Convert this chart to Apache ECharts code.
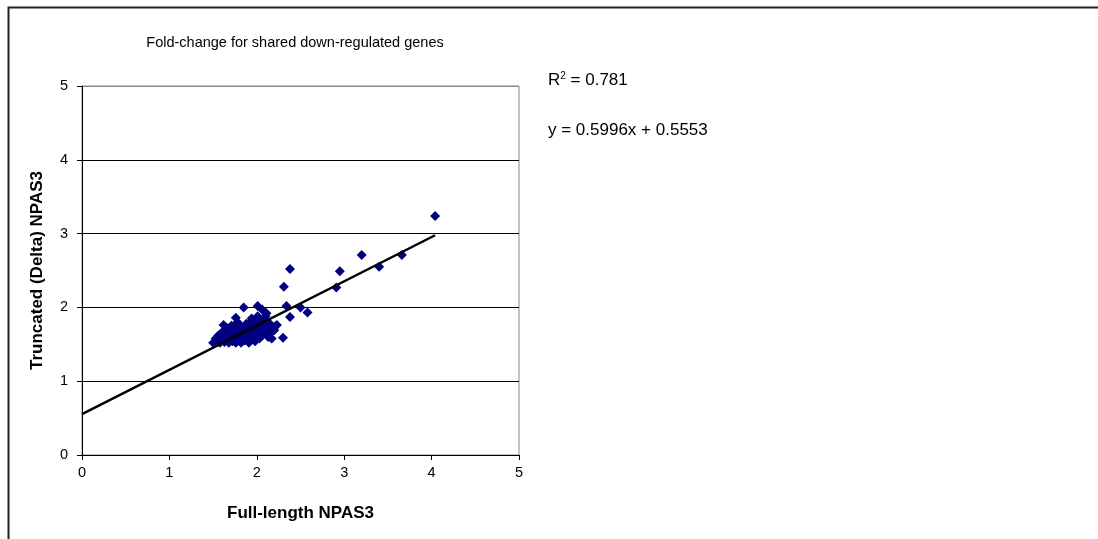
<!DOCTYPE html>
<html>
<head>
<meta charset="utf-8">
<script src="https://cdn.jsdelivr.net/npm/echarts@6/dist/echarts.min.js"></script>
<style>
  html, body { margin: 0; padding: 0; background: #fff; }
  #chart { width: 1098px; height: 539px; }
</style>
</head>
<body>
<div id="chart"></div>
<script>
// fold-change values (x = full-length, y = truncated)
const fullLength = [
  4.04, 3.66, 3.40, 3.20, 2.95, 2.91, 2.38, 2.31, 2.34, 2.50, 2.58, 2.38, 2.30,
  2.01, 1.85, 2.06, 2.11, 1.94, 1.76, 1.62, 2.21, 2.17,
  1.50, 1.53, 1.55, 1.56, 1.58, 1.60, 1.60, 1.62,
  1.63, 1.64, 1.65, 1.66, 1.67, 1.68, 1.69, 1.70,
  1.71, 1.72, 1.73, 1.74, 1.75, 1.76, 1.77, 1.78, 1.79, 1.80,
  1.81, 1.82, 1.83, 1.84, 1.85, 1.86, 1.87, 1.88, 1.89, 1.90,
  1.91, 1.92, 1.93, 1.94, 1.95, 1.96, 1.97, 1.98, 1.99, 2.00,
  2.01, 2.02, 2.03, 2.04, 2.05, 2.06, 2.07, 2.08, 2.09, 2.10,
  2.12, 2.13, 2.15, 2.16, 2.18, 2.20, 2.23
];
const truncated = [
  3.24, 2.71, 2.55, 2.71, 2.49, 2.27, 2.52, 2.28, 2.02, 2.00, 1.93, 1.87, 1.59,
  2.02, 2.00, 1.97, 1.92, 1.85, 1.86, 1.76, 1.74, 1.58,
  1.52, 1.58, 1.55, 1.62, 1.52, 1.66, 1.57, 1.60,
  1.53, 1.68, 1.56, 1.72, 1.62, 1.52, 1.66, 1.58,
  1.75, 1.54, 1.64, 1.60, 1.70, 1.52, 1.67, 1.80, 1.57, 1.62,
  1.74, 1.52, 1.66, 1.58, 1.70, 1.55, 1.63, 1.78, 1.60, 1.68,
  1.52, 1.74, 1.57, 1.65, 1.82, 1.60, 1.70, 1.54, 1.76, 1.63,
  1.88, 1.68, 1.58, 1.80, 1.72, 1.62, 1.84, 1.66, 1.76, 1.88,
  1.70, 1.60, 1.78, 1.66, 1.72, 1.69, 1.76
];
// trendline as printed on the chart
const slope = 0.5996;
const intercept = 0.5553;
const rSquared = '0.781';
const axisTicks = [0, 1, 2, 3, 4, 5];

const points = fullLength.map((x, i) => [x, truncated[i]]);
const xMax = Math.max(...fullLength);
const trend = [[0, intercept], [xMax, intercept + slope * xMax]];

const chart = echarts.init(document.getElementById('chart'));
const font = 'Liberation Sans, Arial, sans-serif';

chart.setOption({
  animation: false,
  backgroundColor: '#fff',
  title: {
    text: 'Fold-change for shared down-regulated genes',
    left: 290,
    top: 30,
    textAlign: 'center',
    textStyle: { fontFamily: font, fontSize: 14.5, fontWeight: 'normal', color: '#000' }
  },
  grid: {
    left: 82, top: 86, right: 579, bottom: 84,
    show: true, borderColor: '#888', borderWidth: 1
  },
  xAxis: {
    type: 'value', min: axisTicks[0], max: axisTicks[axisTicks.length - 1], interval: 1,
    name: 'Full-length NPAS3', nameLocation: 'middle', nameGap: 50,
    nameTextStyle: { fontFamily: font, fontSize: 17, fontWeight: 'bold', color: '#000' },
    axisLine: { lineStyle: { color: '#000', width: 1 } },
    axisTick: { show: true, length: 5, lineStyle: { color: '#000' } },
    axisLabel: { fontFamily: font, fontSize: 14.5, color: '#000', margin: 10 },
    splitLine: { show: false }
  },
  yAxis: {
    type: 'value', min: axisTicks[0], max: axisTicks[axisTicks.length - 1], interval: 1,
    name: 'Truncated (Delta) NPAS3', nameLocation: 'middle', nameGap: 36,
    nameTextStyle: { fontFamily: font, fontSize: 17, fontWeight: 'bold', color: '#000' },
    axisLine: { show: true, lineStyle: { color: '#000', width: 1 } },
    axisTick: { show: true, length: 5, lineStyle: { color: '#000' } },
    axisLabel: { fontFamily: font, fontSize: 14.5, color: '#000', margin: 14 },
    splitLine: {
      show: true,
      lineStyle: { color: ['#000', '#000', '#000', '#000', '#000', '#888'], width: 1 }
    }
  },
  graphic: [
    {
      type: 'rect', left: 6, top: 5, silent: true,
      shape: { width: 1300, height: 700 },
      style: { fill: 'none', stroke: '#222', lineWidth: 2 }
    },
    {
      type: 'text', left: 548, top: 71,
      style: {
        text: '{t|R}{s|2}{t| = ' + rSquared + '}',
        rich: {
          t: { fontFamily: font, fontSize: 17, fill: '#000' },
          s: { fontFamily: font, fontSize: 10, fill: '#000', verticalAlign: 'top', padding: [0, 0, 9, 0] }
        }
      }
    },
    {
      type: 'text', left: 548, top: 122,
      style: {
        text: 'y = ' + slope + 'x + ' + intercept,
        font: '17px ' + font, fill: '#000'
      }
    }
  ],
  series: [
    {
      type: 'scatter',
      data: points,
      symbol: 'diamond',
      symbolSize: 10,
      itemStyle: { color: '#000080', opacity: 1 },
      z: 2
    },
    {
      type: 'line',
      data: trend,
      symbol: 'none',
      lineStyle: { color: '#000', width: 2.5 },
      z: 3
    }
  ]
});
</script>
</body>
</html>
